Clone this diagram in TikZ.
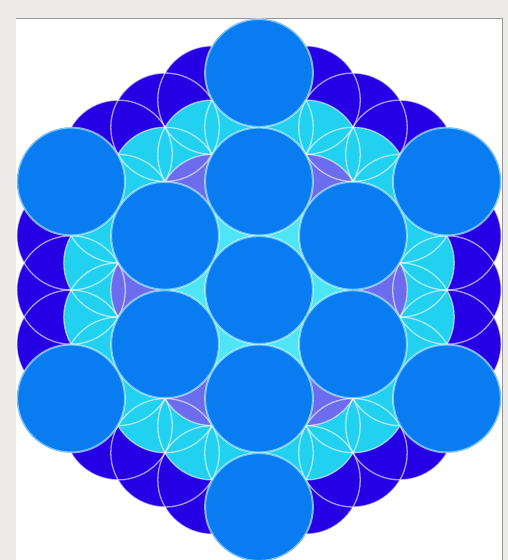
\documentclass[tikz,border=0pt]{standalone}
\definecolor{framegray}{RGB}{236,235,233}
\definecolor{frameline}{RGB}{150,150,150}
\definecolor{bigblue}{RGB}{8,124,240}
\definecolor{bigedge}{RGB}{110,200,250}
\definecolor{indigof}{RGB}{38,0,228}
\definecolor{cyanf}{RGB}{34,208,240}
\definecolor{lightcyanf}{RGB}{78,230,246}
\definecolor{purplef}{RGB}{108,108,238}
\tikzset{
  petalline/.style={draw=white, draw opacity=0.6, line width=1.3},
  bigdisc/.style={fill=bigblue, draw=bigedge, line width=1.1},
}
\begin{document}
\begin{tikzpicture}[x=1pt,y=-1pt]
\useasboundingbox (0,0) rectangle (508,560);
% frame
\fill[framegray] (0,0) rectangle (508,560);
\fill[white] (16,18) rectangle (502,560);
\draw[frameline, line width=1] (16,18) -- (502,18) -- (502,560);
\coordinate (O) at (259,290);
\def\a{54.25}
% outer layer: all lattice circles up to hex distance 4, indigo
\foreach \m in {-4,...,4}{\foreach \n in {-4,...,4}{
  \pgfmathtruncatemacro\d{((\m)*(\n)>=0) ? abs(\m)+abs(\n) : max(abs(\m),abs(\n))}
  \ifnum\d<5 \fill[indigof] ({259+(\n)*46.982},{290-(\m)*54.25-(\n)*27.125}) circle (\a); \fi
}}
% cyan layer: up to hex distance 3
\foreach \m in {-3,...,3}{\foreach \n in {-3,...,3}{
  \pgfmathtruncatemacro\d{((\m)*(\n)>=0) ? abs(\m)+abs(\n) : max(abs(\m),abs(\n))}
  \ifnum\d<4 \fill[cyanf] ({259+(\n)*46.982},{290-(\m)*54.25-(\n)*27.125}) circle (\a); \fi
}}
% purple layer: six circles at sqrt(3)a
\foreach \t in {0,60,...,300}
  \fill[purplef] ({259+93.965*cos(\t)},{290+93.965*sin(\t)}) circle (\a);
% light cyan: centre and first ring
\fill[lightcyanf] (O) circle (\a);
\foreach \t in {30,90,...,330}
  \fill[lightcyanf] ({259+54.25*cos(\t)},{290+54.25*sin(\t)}) circle (\a);
% outlines of the flower
\foreach \m in {-4,...,4}{\foreach \n in {-4,...,4}{
  \pgfmathtruncatemacro\d{((\m)*(\n)>=0) ? abs(\m)+abs(\n) : max(abs(\m),abs(\n))}
  \ifnum\d<5 \path[petalline] ({259+(\n)*46.982},{290-(\m)*54.25-(\n)*27.125}) circle (\a); \fi
}}
% thirteen big discs
\node[circle, bigdisc, minimum size=107pt, inner sep=0pt] (c0) at (O) {};
\foreach \t [count=\i] in {30,90,...,330}{
  \node[circle, bigdisc, minimum size=107pt, inner sep=0pt] (r\i) at ({259+108.5*cos(\t)},{290+108.5*sin(\t)}) {};
  \node[circle, bigdisc, minimum size=107pt, inner sep=0pt] (s\i) at ({259+217*cos(\t)},{290+217*sin(\t)}) {};
}
\end{tikzpicture}
\end{document}
